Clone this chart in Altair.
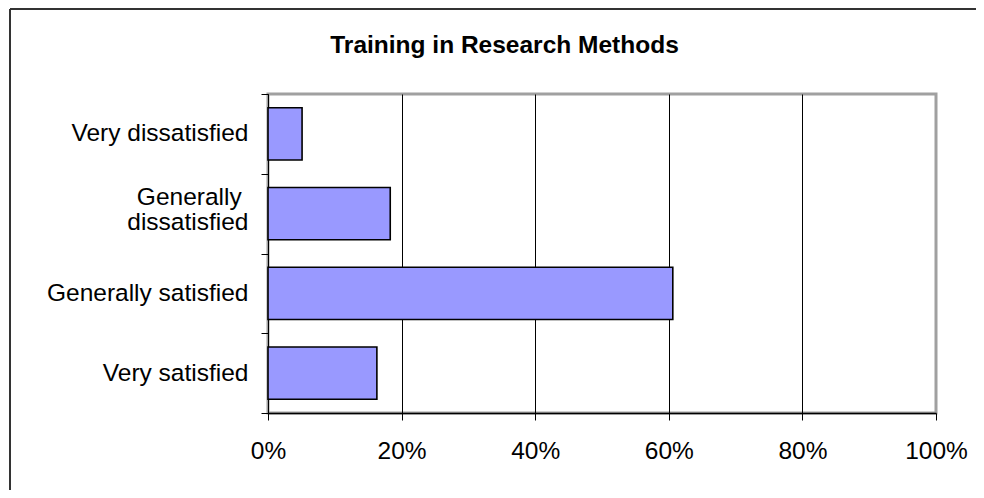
import altair as alt
import pandas as pd

# ---- data ----
categories = ["Very dissatisfied", "Generally dissatisfied", "Generally satisfied", "Very satisfied"]
shares = [0.051, 0.183, 0.606, 0.163]
x_ticks = [0, 0.2, 0.4, 0.6, 0.8, 1.0]
title_text = "Training in Research Methods"

df = pd.DataFrame({"category": categories, "share": shares})
one = pd.DataFrame({"t": [title_text]})

FONT = "Liberation Sans"
FS = 24.5

# trailing no-break space kept by a zero-width char (Vega trims whitespace)
label_expr = ("datum.value == 'Generally dissatisfied' ? "
              "['Generally\u00a0\u200b', 'dissatisfied'] : datum.value")

bars = alt.Chart(df).mark_bar(
    fill="#9999FF", stroke="black", strokeWidth=1.6, height={"band": 0.656}
).encode(
    x=alt.X(
        "share:Q",
        scale=alt.Scale(domain=[0, 1], nice=False, zero=True),
        axis=alt.Axis(
            values=x_ticks, format=".0%", title=None,
            labelFont=FONT, labelFontSize=FS, labelColor="black",
            labelPadding=19, labelFlush=False,
            tickSize=7, tickColor="black", tickWidth=1,
            domainColor="black", domainWidth=1.5,
            grid=True, gridWidth=1,
            gridColor={"condition": {"test": "datum.value >= 1", "value": "#A0A0A0"},
                       "value": "black"},
        ),
    ),
    y=alt.Y(
        "category:N", sort=categories,
        scale=alt.Scale(paddingInner=0, paddingOuter=0),
        axis=alt.Axis(
            title=None, labelFont=FONT, labelFontSize=FS, labelColor="black",
            labelAlign="right", labelPadding=13, labelLineHeight=24.5,
            labelLimit=400, labelExpr=label_expr,
            labelOffset={"condition": {"test": "datum.value == 'Generally dissatisfied'",
                                       "value": -16},
                         "value": 0},
            tickBand="extent", tickSize=7, tickColor="black", tickWidth=1,
            domainColor="black", domainWidth=1, grid=False,
        ),
    ),
)

title = alt.Chart(one).mark_text(
    font=FONT, fontSize=FS, fontWeight="bold", color="black",
    align="center", baseline="alphabetic",
).encode(text="t:N", x=alt.value(236.5), y=alt.value(-40.7))

left_border = alt.Chart(one).mark_rule(color="#333333", strokeWidth=2).encode(
    x=alt.value(-258), y=alt.value(-85), y2=alt.value(500)
)
top_border = alt.Chart(one).mark_rule(color="#333333", strokeWidth=2).encode(
    x=alt.value(-258), x2=alt.value(800), y=alt.value(-85)
)

chart = alt.layer(bars, title, left_border, top_border).properties(
    width=668,
    height=319,
    autosize=alt.AutoSizeParams(type="none"),
    padding={"left": 260, "top": 86, "right": 40, "bottom": 77},
).configure_view(stroke="#A0A0A0", strokeWidth=3)

chart.save("out.html", embed_options={"renderer": "svg", "actions": False})
